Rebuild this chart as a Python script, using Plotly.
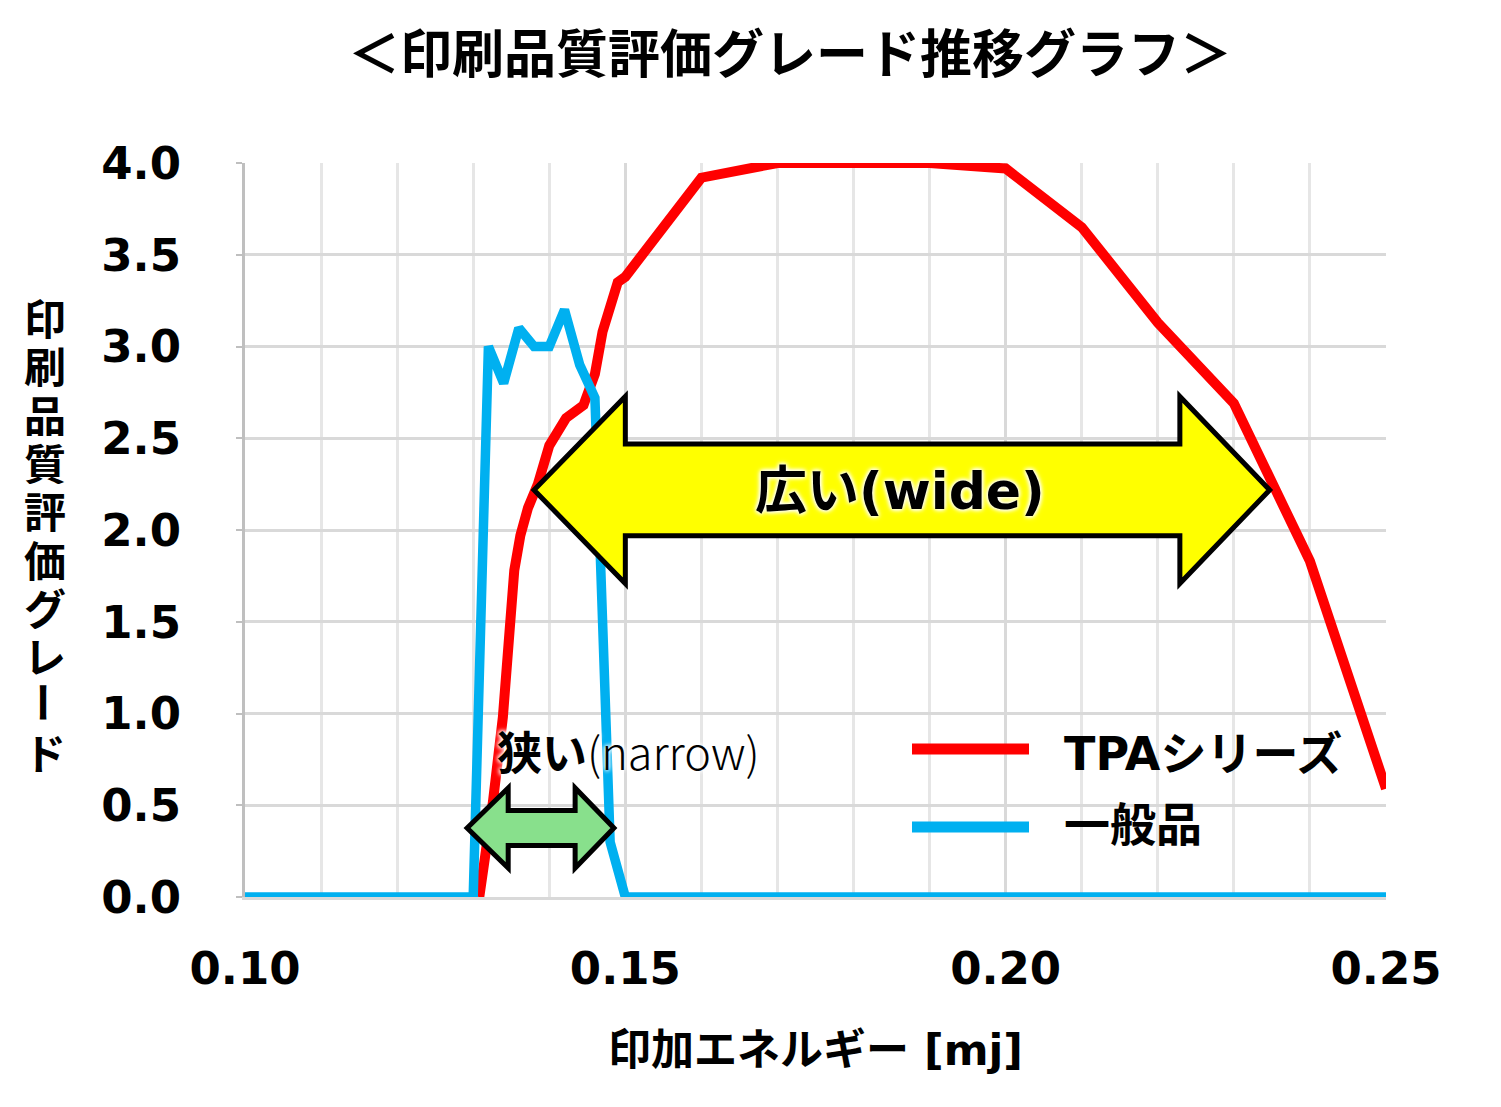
import plotly.graph_objects as go

# 印加エネルギー [mj] vs 印刷品質評価グレード
energy_tpa = [0.1308, 0.1317, 0.1326, 0.1339, 0.1348, 0.1354, 0.1362, 0.1372,
              0.1385, 0.1400, 0.1422, 0.1445, 0.1460, 0.1470, 0.1490, 0.1500,
              0.160, 0.170, 0.180, 0.190, 0.200, 0.210, 0.220, 0.230, 0.240, 0.250]
grade_tpa = [0.0, 0.24, 0.52, 0.98, 1.44, 1.78, 1.97, 2.12,
             2.25, 2.46, 2.61, 2.68, 2.85, 3.08, 3.35, 3.38,
             3.92, 4.0, 4.0, 4.0, 3.97, 3.65, 3.13, 2.69, 1.83, 0.59]

energy_std = [0.100, 0.130, 0.132, 0.134, 0.136, 0.138, 0.140, 0.142, 0.144,
              0.146, 0.148, 0.150, 0.250]
grade_std = [0.0, 0.0, 3.0, 2.8, 3.1, 3.0, 3.0, 3.2, 2.9,
             2.72, 0.3, 0.0, 0.0]

series_names = ["TPAシリーズ", "一般品"]
series_colors = ["#FF0000", "#00B0F0"]

title_text = "＜印刷品質評価グレード推移グラフ＞"
x_title = "印加エネルギー [mj]"
y_title_chars = list("印刷品質評価グレード")

WIDE_LABEL = "広い(wide)"
NARROW_LABEL = "<b>狭い</b>(narrow)"

# page is drawn inside the default 8px body margin, so shrink the figure by it
OFF = 8
W, H = 1501 - OFF, 1107 - OFF
L, R, T, B = 245 - OFF, 115, 163 - OFF, 210
PW, PH = W - L - R, H - T - B

FONT_NUM = "DejaVu Sans, Noto Sans CJK JP, sans-serif"
FONT_JP = "Noto Sans CJK JP, sans-serif"


def px_to_paper(px, py):
    # page pixel (as in the reference) -> plot-area paper fraction
    return (px - OFF - L) / PW, (H - B - (py - OFF)) / PH


def double_arrow(x0, x1, xh0, xh1, yc, head_half, shaft_half):
    # polygon for a two-headed block arrow, in data coordinates
    pts = [(x0, yc), (xh0, yc + head_half), (xh0, yc + shaft_half),
           (xh1, yc + shaft_half), (xh1, yc + head_half), (x1, yc),
           (xh1, yc - head_half), (xh1, yc - shaft_half),
           (xh0, yc - shaft_half), (xh0, yc - head_half)]
    return "M " + " L ".join(f"{x},{y}" for x, y in pts) + " Z"


fig = go.Figure()
fig.add_trace(go.Scatter(x=energy_tpa, y=grade_tpa, mode="lines", name=series_names[0],
                         cliponaxis=False,
                         line=dict(color=series_colors[0], width=10)))
fig.add_trace(go.Scatter(x=energy_std, y=grade_std, mode="lines", name=series_names[1],
                         cliponaxis=False,
                         line=dict(color=series_colors[1], width=9.5)))

# yellow wide arrow
fig.add_shape(type="path", xref="x", yref="y",
              path=double_arrow(0.1380, 0.2347, 0.1500, 0.2229, 2.218, 0.51, 0.25),
              fillcolor="#FFFF00", line=dict(color="black", width=5), layer="above")
# green narrow arrow
fig.add_shape(type="path", xref="x", yref="y",
              path=double_arrow(0.1292, 0.1485, 0.1346, 0.1434, 0.376, 0.218, 0.096),
              fillcolor="#88E08C", line=dict(color="black", width=5), layer="above")

glow = "0px 0px 4px white, 0px 0px 4px white, 0px 0px 6px white"
fig.add_annotation(x=0.1861, y=2.21, xref="x", yref="y", text=WIDE_LABEL, showarrow=False,
                   font=dict(family=FONT_NUM, size=52, color="black", weight="bold", shadow=glow))
fig.add_annotation(x=0.1329, y=0.80, xref="x", yref="y", text=NARROW_LABEL, showarrow=False,
                   xanchor="left",
                   font=dict(family=FONT_JP, size=45, color="black", weight=300, shadow=glow))

# manual legend (long line samples as in the reference)
legend_rows = [(749, 754), (827, 825)]
for (name, color), (line_y, text_y) in zip(zip(series_names, series_colors), legend_rows):
    x0, y0 = px_to_paper(912, line_y)
    x1, _ = px_to_paper(1029, line_y)
    fig.add_shape(type="line", xref="paper", yref="paper", x0=x0, x1=x1, y0=y0, y1=y0,
                  line=dict(color=color, width=11))
    tx, ty = px_to_paper(1062, text_y)
    fig.add_annotation(x=tx, y=ty, xref="paper", yref="paper", text=name, showarrow=False,
                       xanchor="left", yanchor="middle",
                       font=dict(family=FONT_NUM, size=46, color="black", weight="bold"))

# stacked vertical y-axis title
for i, ch in enumerate(y_title_chars):
    cx, cy = px_to_paper(45, 316 + i * 48.3)
    fig.add_annotation(x=cx, y=cy, xref="paper", yref="paper", text=ch, showarrow=False,
                       xanchor="center", yanchor="middle", height=46,
                       textangle=90 if ch == "ー" else 0,
                       font=dict(family=FONT_JP, size=42, color="black", weight="bold"))

fig.update_layout(
    width=W, height=H,
    margin=dict(l=L, r=R, t=T, b=B),
    paper_bgcolor="white", plot_bgcolor="white",
    showlegend=False,
    title=dict(text=title_text, x=(790 - OFF) / W, xanchor="center",
               y=1 - (55 - OFF) / H, yanchor="middle", yref="container",
               font=dict(family=FONT_JP, size=52, color="black", weight="bold")),
    xaxis=dict(range=[0.10, 0.25], dtick=0.05, tick0=0.10, tickformat=".2f",
               showgrid=True, gridcolor="#D9D9D9", gridwidth=2.5,
               minor=dict(dtick=0.01, showgrid=True, gridcolor="#E6E6E6", gridwidth=2.5),
               showline=True, linecolor="#D9D9D9", linewidth=2.5,
               zeroline=False, ticks="", ticklabelstandoff=30,
               tickfont=dict(family=FONT_NUM, size=45, color="black", weight="bold"),
               title=dict(text=x_title, standoff=42,
                          font=dict(family=FONT_NUM, size=43, color="black", weight="bold"))),
    yaxis=dict(range=[0, 4.0], dtick=0.5, tickformat=".1f",
               showgrid=True, gridcolor="#D9D9D9", gridwidth=2.5,
               showline=True, linecolor="#BFBFBF", linewidth=3,
               zeroline=False, ticks="outside", ticklen=6, tickcolor="#BFBFBF", tickwidth=2,
               ticklabelstandoff=46,
               tickfont=dict(family=FONT_NUM, size=45, color="black", weight="bold")),
)

fig.write_html("out.html")
